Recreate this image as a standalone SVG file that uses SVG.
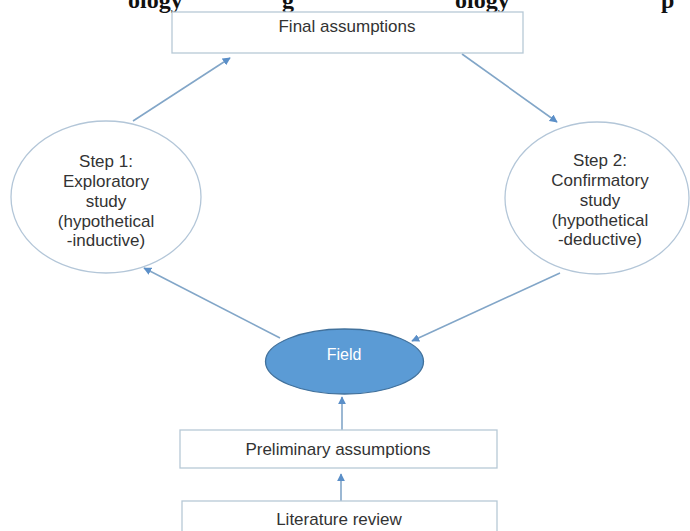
<svg xmlns="http://www.w3.org/2000/svg" width="690" height="531" viewBox="0 0 690 531">
<defs>
<style>
.box{fill:#ffffff;stroke:#b7c9d6;stroke-width:1.3}
.circ{fill:#ffffff;stroke:#b3c6d8;stroke-width:1.3}
.lbl{font-family:"Liberation Sans",Arial,sans-serif;font-size:17px;fill:#333333;text-anchor:middle}
.conn{stroke:#82a6c8;stroke-width:1.6;fill:none;marker-end:url(#ah)}
.frag{font-family:"Liberation Serif","DejaVu Serif",serif;font-size:24px;font-weight:bold;fill:#111111}
</style>
<marker id="ah" viewBox="0 0 10 10" refX="9" refY="5" markerWidth="8" markerHeight="8" markerUnits="userSpaceOnUse" orient="auto">
<path d="M0,0 L10,5 L0,10 z" fill="#5b8fc8"/>
</marker>
</defs>
<rect width="690" height="531" fill="#ffffff"/>
<g id="page-fragment">
<text class="frag" x="128" y="8">ology</text>
<text class="frag" x="282" y="8">g</text>
<text class="frag" x="455" y="8">ology</text>
<text class="frag" x="661" y="8">p</text>
</g>
<g id="connectors">
<line class="conn" x1="133" y1="121" x2="230" y2="58"/>
<line class="conn" x1="462" y1="54" x2="557" y2="122"/>
<line class="conn" x1="280" y1="338" x2="144" y2="268"/>
<line class="conn" x1="560" y1="273" x2="412" y2="341"/>
<line class="conn" x1="342" y1="430" x2="342" y2="397"/>
<line class="conn" x1="341" y1="501" x2="341" y2="474"/>
</g>
<g id="final-assumptions">
<rect class="box" x="172" y="12" width="351" height="41"/>
<text class="lbl" x="347" y="32">Final assumptions</text>
</g>
<g id="step1">
<ellipse class="circ" cx="106" cy="197" rx="95" ry="76"/>
<text class="lbl" x="106" y="167">Step 1:</text>
<text class="lbl" x="106" y="187">Exploratory</text>
<text class="lbl" x="106" y="207">study</text>
<text class="lbl" x="106" y="227">(hypothetical</text>
<text class="lbl" x="106" y="246">-inductive)</text>
</g>
<g id="step2">
<ellipse class="circ" cx="597" cy="198" rx="92" ry="76"/>
<text class="lbl" x="600" y="166">Step 2:</text>
<text class="lbl" x="600" y="186">Confirmatory</text>
<text class="lbl" x="600" y="206">study</text>
<text class="lbl" x="600" y="226">(hypothetical</text>
<text class="lbl" x="600" y="245">-deductive)</text>
</g>
<g id="field">
<ellipse cx="344.5" cy="361.5" rx="79" ry="32.5" fill="#5b9bd5" stroke="#41719c" stroke-width="1.3"/>
<text class="lbl" x="344" y="360" style="fill:#ffffff;font-size:16px">Field</text>
</g>
<g id="preliminary-assumptions">
<rect class="box" x="180" y="430" width="317" height="38"/>
<text class="lbl" x="338" y="455">Preliminary assumptions</text>
</g>
<g id="literature-review">
<rect class="box" x="182" y="501" width="315" height="40"/>
<text class="lbl" x="339" y="525">Literature review</text>
</g>
</svg>
